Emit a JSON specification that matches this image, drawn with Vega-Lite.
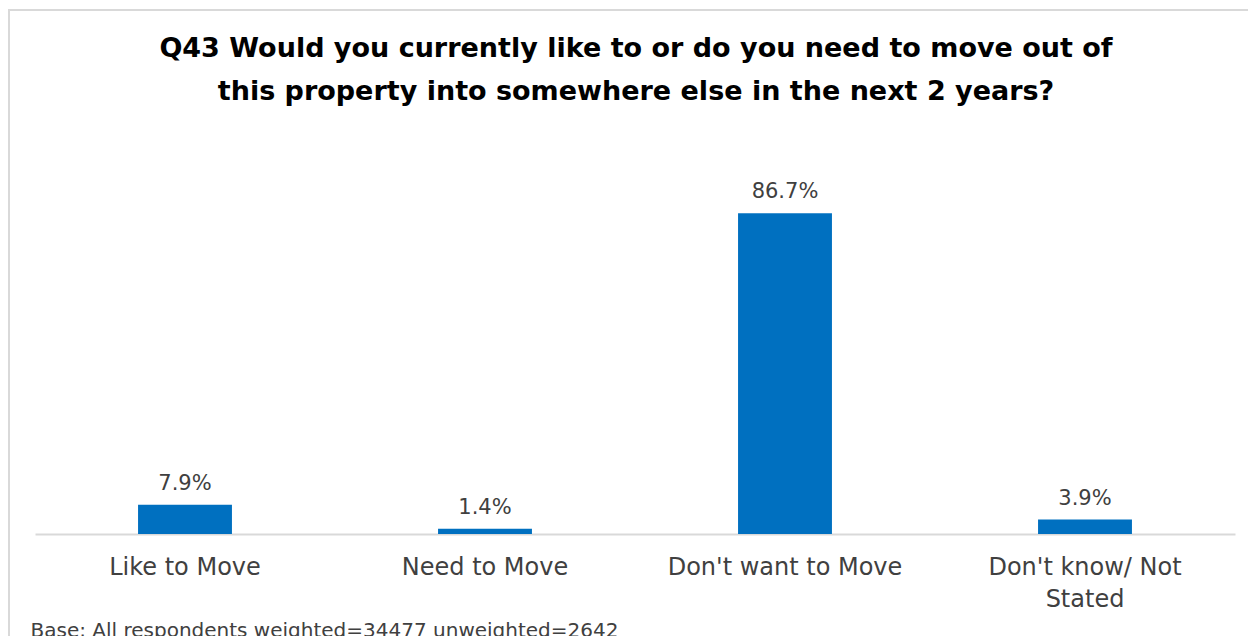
{
  "$schema": "https://vega.github.io/schema/vega-lite/v6.json",
  "autosize": "none",
  "padding": {"left": 9, "top": 10, "right": 0, "bottom": 0},
  "width": 1254,
  "height": 640,
  "background": "white",
  "title": {
    "text": ["Q43 Would you currently like to or do you need to move out of", "this property into somewhere else in the next 2 years?"],
    "font": "DejaVu Sans",
    "fontSize": 27,
    "fontWeight": "bold",
    "color": "#000000",
    "lineHeight": 43,
    "anchor": "middle",
    "baseline": "top",
    "dy": 100
  },
  "data": {
    "values": [
      {"category": "Like to Move", "share": 0.079},
      {"category": "Need to Move", "share": 0.014},
      {"category": "Don't want to Move", "share": 0.867},
      {"category": "Don't know/ Not Stated", "share": 0.039}
    ]
  },
  "config": {
    "view": {"stroke": "#d9d9d9", "strokeWidth": 2},
    "font": "DejaVu Sans"
  },
  "encoding": {
    "x": {
      "field": "category",
      "type": "nominal",
      "sort": null,
      "scale": {"range": [26, 1226], "paddingInner": 0.687, "paddingOuter": 0.3435},
      "axis": {
        "orient": "bottom",
        "offset": -116,
        "domainColor": "#d9d9d9",
        "domainWidth": 2,
        "ticks": false,
        "labelAngle": 0,
        "labelLimit": 0,
        "labelFont": "DejaVu Sans",
        "labelFontSize": 24,
        "labelColor": "#404040",
        "labelPadding": 21,
        "labelLineHeight": 32,
        "labelExpr": "datum.label == \"Don't know/ Not Stated\" ? [\"Don't know/ Not\", \"Stated\"] : datum.label",
        "title": "Base: All respondents weighted=34477 unweighted=2642",
        "titleFont": "DejaVu Sans",
        "titleFontSize": 20,
        "titleFontWeight": "normal",
        "titleColor": "#404040",
        "titleAlign": "left",
        "titleBaseline": "top",
        "titleAnchor": "start",
        "titleX": 21,
        "titleY": 86
      }
    },
    "y": {
      "field": "share",
      "type": "quantitative",
      "scale": {"domain": [0, 1], "range": [524, 154]},
      "axis": null
    }
  },
  "layer": [
    {"mark": {"type": "bar", "color": "#0070C0"}},
    {
      "mark": {"type": "text", "baseline": "alphabetic", "dy": -15, "fontSize": 21, "color": "#404040", "font": "DejaVu Sans"},
      "encoding": {"text": {"field": "share", "type": "quantitative", "format": ".1%"}}
    }
  ]
}
